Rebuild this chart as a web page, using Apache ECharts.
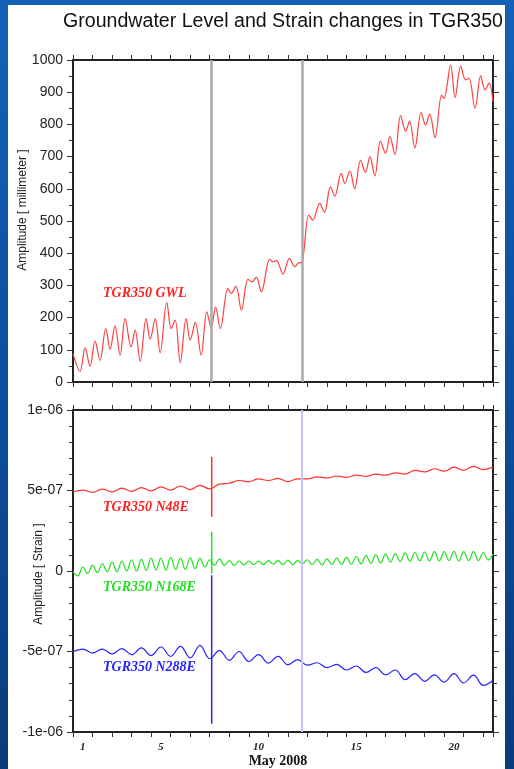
<!DOCTYPE html>
<html><head><meta charset="utf-8">
<script src="https://cdn.jsdelivr.net/npm/echarts@6/dist/echarts.min.js"></script>
<style>
html,body{margin:0;padding:0;width:514px;height:769px;overflow:hidden;}
body{background:linear-gradient(180deg,#1462b8 0%,#0d4f9e 50%,#0a3c7c 100%);position:relative;}
#panel{position:absolute;left:8px;top:5px;width:497px;height:764px;background:#fff;}
#chart{position:absolute;left:0;top:0;width:514px;height:769px;}
</style></head>
<body><div id="panel"></div><div id="chart"></div>
<script>
// ---------- DATA ----------
// Groundwater level (mm), time in days since May 1 00:00
const gwlTimes = [0.00,0.36,0.62,0.87,1.13,1.38,1.68,1.90,2.15,2.41,2.67,2.97,3.18,3.44,3.74,3.95,4.21,4.46,4.80,5.03,5.23,5.49,5.79,6.00,6.26,6.56,6.85,7.08,7.30,7.54,7.93,8.10,8.34,8.62,8.96,9.17,9.38,9.64,10.07,10.24,10.41,10.75,11.08,11.35,11.55,11.72,12.07,12.27,12.63,12.87,13.18,13.40,13.73,13.91,14.17,14.42,14.72,14.97,15.20,15.45,15.74,16.00,16.22,16.48,16.77,17.03,17.23,17.50,17.82,18.05,18.26,18.53,18.87,18.99,19.33,19.56,19.85,20.10,20.27,20.58,20.87,21.09,21.30,21.50];
const gwlValues = [88,33,106,49,127,67,166,102,174,83,197,109,161,64,197,133,197,91,247,166,192,60,197,130,185,83,218,168,233,166,290,275,298,223,319,311,325,280,381,373,378,335,384,358,370,372,518,503,555,527,606,577,648,617,655,600,689,651,700,640,748,710,762,707,827,779,810,727,837,798,832,759,891,881,984,883,981,938,943,850,951,907,928,870];

// Strain (units of 1e-07)
const halfDayTimes = [0,0.5,1,1.5,2,2.5,3,3.5,4,4.5,5,5.5,6,6.5,7,7.5,8,8.5,9,9.5,10,10.5,11,11.5,12,12.5,13,13.5,14,14.5,15,15.5,16,16.5,17,17.5,18,18.5,19,19.5,20,20.5,21,21.5];
const quarterDayTimes = [0,0.25,0.5,0.75,1,1.25,1.5,1.75,2,2.25,2.5,2.75,3,3.25,3.5,3.75,4,4.25,4.5,4.75,5,5.25,5.5,5.75,6,6.25,6.5,6.75,7,7.25,7.5,7.75,8,8.25,8.5,8.75,9,9.25,9.5,9.75,10,10.25,10.5,10.75,11,11.25,11.5,11.75,12,12.25,12.5,12.75,13,13.25,13.5,13.75,14,14.25,14.5,14.75,15,15.25,15.5,15.75,16,16.25,16.5,16.75,17,17.25,17.5,17.75,18,18.25,18.5,18.75,19,19.25,19.5,19.75,20,20.25,20.5,20.75,21,21.25,21.5];
const n48eValues = [4.92,5.02,4.88,5.08,4.92,5.15,4.95,5.18,4.98,5.22,5.02,5.28,5.05,5.32,5.10,5.40,5.45,5.62,5.55,5.72,5.62,5.75,5.55,5.72,5.72,5.85,5.78,5.90,5.82,5.95,5.88,6.02,5.95,6.10,6.02,6.25,6.15,6.35,6.20,6.45,6.25,6.50,6.30,6.45];
const n168eValues = [-0.05,-0.30,0.25,-0.15,0.35,-0.10,0.45,-0.05,0.55,-0.05,0.60,0.00,0.70,0.00,0.72,0.05,0.80,0.05,0.80,0.05,0.85,0.10,0.80,0.10,0.82,0.15,0.80,0.25,0.70,0.35,0.75,0.35,0.65,0.35,0.62,0.38,0.62,0.40,0.62,0.40,0.65,0.42,0.65,0.40,0.68,0.40,0.65,0.45,0.70,0.40,0.72,0.38,0.75,0.40,0.80,0.42,0.85,0.42,0.90,0.45,0.95,0.48,1.00,0.50,1.05,0.55,1.08,0.58,1.12,0.60,1.15,0.62,1.18,0.62,1.20,0.62,1.20,0.65,1.22,0.62,1.20,0.65,1.20,0.65,1.15,0.68,1.05];
const n288eValues = [-5.02,-4.85,-5.10,-4.85,-5.15,-4.82,-5.20,-4.78,-5.25,-4.72,-5.30,-4.68,-5.40,-4.62,-5.45,-4.95,-5.55,-5.00,-5.62,-5.20,-5.72,-5.30,-5.82,-5.50,-5.85,-5.70,-6.00,-5.80,-6.15,-5.90,-6.30,-6.00,-6.45,-6.15,-6.75,-6.37,-6.85,-6.45,-6.90,-6.37,-6.95,-6.47,-7.10,-6.80];

// Events (days) and spike ranges (1e-07)
const eventTimes = [7.1, 11.72];
const n48eSpikes = [[3.37, 7.10], [5.23, 6.16]];
const n168eSpikes = [[-0.15, 2.43], [-0.57, 1.67]];
const n288eSpikes = [[-9.48, -0.26], [-6.16, -4.40]];

// Tick labels
const dayTickDays = [1, 5, 10, 15, 20];
const strainTickValues = [-10, -5, 0, 5, 10];
const strainTickLabels = ['-1e-06', '-5e-07', '0', '5e-07', '1e-06'];

// ---------- CHART ----------
const zip = (t, v) => t.map((x, i) => [x, v[i]]);
const chart = echarts.init(document.getElementById('chart'), null, {renderer: 'canvas'});
const axisCol = '#222';
const lineStyleAx = {color: axisCol, width: 2};
const tickBase = {show: true, inside: false, length: 5, lineStyle: {color: '#333', width: 1}};

function xAx(grid, pos) {
  return {type: 'value', gridIndex: grid, position: pos, min: 0, max: 21.5, interval: 1,
    axisLine: {show: true, onZero: false, lineStyle: lineStyleAx}, axisTick: tickBase,
    axisLabel: {show: false}, splitLine: {show: false}};
}
function yAx(grid, pos, min, max, interval, split, labels) {
  return {type: 'value', gridIndex: grid, position: pos, min: min, max: max, interval: interval,
    axisLine: {show: true, onZero: false, lineStyle: lineStyleAx},
    axisTick: {show: true, inside: false, length: 6, lineStyle: {color: '#333', width: 1}},
    minorTick: {show: true, splitNumber: split, length: 4, lineStyle: {color: '#333', width: 1}},
    splitLine: {show: false}, minorSplitLine: {show: false},
    axisLabel: labels ? Object.assign({show: true, margin: 10, color: '#222', fontFamily: 'Liberation Sans, Arial, sans-serif', fontSize: 14}, labels) : {show: false}};
}

const strainFmt = v => { const i = strainTickValues.indexOf(Math.round(v)); return i >= 0 ? strainTickLabels[i] : ''; };
const plainFmt = v => String(v);
const dayFmt = v => { for (const d of dayTickDays) if (Math.abs(v - (d - 0.5)) < 1e-6) return String(d); return ''; };

function spikeSeries(ranges, color) {
  return ranges.map((r, i) => ({type: 'line', xAxisIndex: 2, yAxisIndex: 2, symbol: 'none', silent: true,
    data: [[eventTimes[i], r[0]], [eventTimes[i], r[1]]], lineStyle: {color: color, width: 1.5}, z: 4}));
}

const option = {
  animation: false,
  backgroundColor: 'transparent',
  grid: [
    {left: 73, top: 60, width: 420, height: 322},
    {left: 73, top: 410, width: 420, height: 322}
  ],
  xAxis: [
    xAx(0, 'bottom'), xAx(0, 'top'), xAx(1, 'bottom'), xAx(1, 'top'),
    {type: 'value', gridIndex: 1, position: 'bottom', min: 0, max: 21.5, interval: 0.5,
      axisLine: {show: false}, axisTick: {show: false}, splitLine: {show: false},
      axisLabel: {show: true, margin: 10, formatter: dayFmt, color: '#222', fontFamily: 'Liberation Serif, Times New Roman, serif', fontStyle: 'italic', fontWeight: 'bold', fontSize: 11}}
  ],
  yAxis: [
    yAx(0, 'left', 0, 1000, 100, 2, {formatter: plainFmt}),
    yAx(0, 'right', 0, 1000, 100, 2, null),
    yAx(1, 'left', -10, 10, 5, 5, {formatter: strainFmt}),
    yAx(1, 'right', -10, 10, 5, 5, null)
  ],
  series: [
    {type: 'line', xAxisIndex: 0, yAxisIndex: 0, symbol: 'none', smooth: 0.35,
      data: zip(gwlTimes, gwlValues), lineStyle: {color: '#ff4040', width: 1.2}, z: 3,
      markLine: {silent: true, symbol: 'none', label: {show: false},
        lineStyle: {color: '#aaaaaa', width: 2.5, type: 'solid'},
        data: eventTimes.map(t => ({xAxis: t}))}},
    {type: 'line', xAxisIndex: 2, yAxisIndex: 2, symbol: 'none', smooth: 0.4,
      data: zip(halfDayTimes, n48eValues), lineStyle: {color: '#ff3030', width: 1.2}, z: 3,
      markLine: {silent: true, symbol: 'none', label: {show: false},
        lineStyle: {color: '#c4c4ff', width: 2, type: 'solid'},
        data: [{xAxis: eventTimes[1]}]}},
    {type: 'line', xAxisIndex: 2, yAxisIndex: 2, symbol: 'none', smooth: 0.4,
      data: zip(quarterDayTimes, n168eValues), lineStyle: {color: '#22e022', width: 1.2}, z: 3},
    {type: 'line', xAxisIndex: 2, yAxisIndex: 2, symbol: 'none', smooth: 0.4,
      data: zip(halfDayTimes, n288eValues), lineStyle: {color: '#2424ff', width: 1.2}, z: 3},
    ...spikeSeries(n48eSpikes, '#ff3030'),
    ...spikeSeries(n168eSpikes, '#22e022'),
    ...spikeSeries(n288eSpikes, '#2424ff')
  ],
  graphic: [
    {type: 'text', x: 283, y: 22, style: {text: 'Groundwater Level and Strain changes in TGR350', align: 'center', verticalAlign: 'middle', fill: '#111', font: '19.6px "Liberation Sans", Arial, sans-serif'}},
    {type: 'text', x: 23, y: 210, rotation: Math.PI / 2, style: {text: 'Amplitude [ millimeter ]', align: 'center', verticalAlign: 'middle', fill: '#222', font: '12px "Liberation Sans", Arial, sans-serif'}},
    {type: 'text', x: 39, y: 574, rotation: Math.PI / 2, style: {text: 'Amplitude [ Strain ]', align: 'center', verticalAlign: 'middle', fill: '#222', font: '12px "Liberation Sans", Arial, sans-serif'}},
    {type: 'text', x: 103, y: 293, style: {text: 'TGR350 GWL', align: 'left', verticalAlign: 'middle', fill: '#ff2020', font: 'italic bold 14px "Liberation Serif", "Times New Roman", serif'}},
    {type: 'text', x: 103, y: 507, style: {text: 'TGR350 N48E', align: 'left', verticalAlign: 'middle', fill: '#ff2020', font: 'italic bold 14px "Liberation Serif", "Times New Roman", serif'}},
    {type: 'text', x: 103, y: 587, style: {text: 'TGR350 N168E', align: 'left', verticalAlign: 'middle', fill: '#22e022', font: 'italic bold 14px "Liberation Serif", "Times New Roman", serif'}},
    {type: 'text', x: 103, y: 667, style: {text: 'TGR350 N288E', align: 'left', verticalAlign: 'middle', fill: '#2424ff', font: 'italic bold 14px "Liberation Serif", "Times New Roman", serif'}},
    {type: 'text', x: 278, y: 761, style: {text: 'May 2008', align: 'center', verticalAlign: 'middle', fill: '#111', font: 'bold 14px "Liberation Serif", "Times New Roman", serif'}}
  ]
};
chart.setOption(option);
</script>
</body></html>
